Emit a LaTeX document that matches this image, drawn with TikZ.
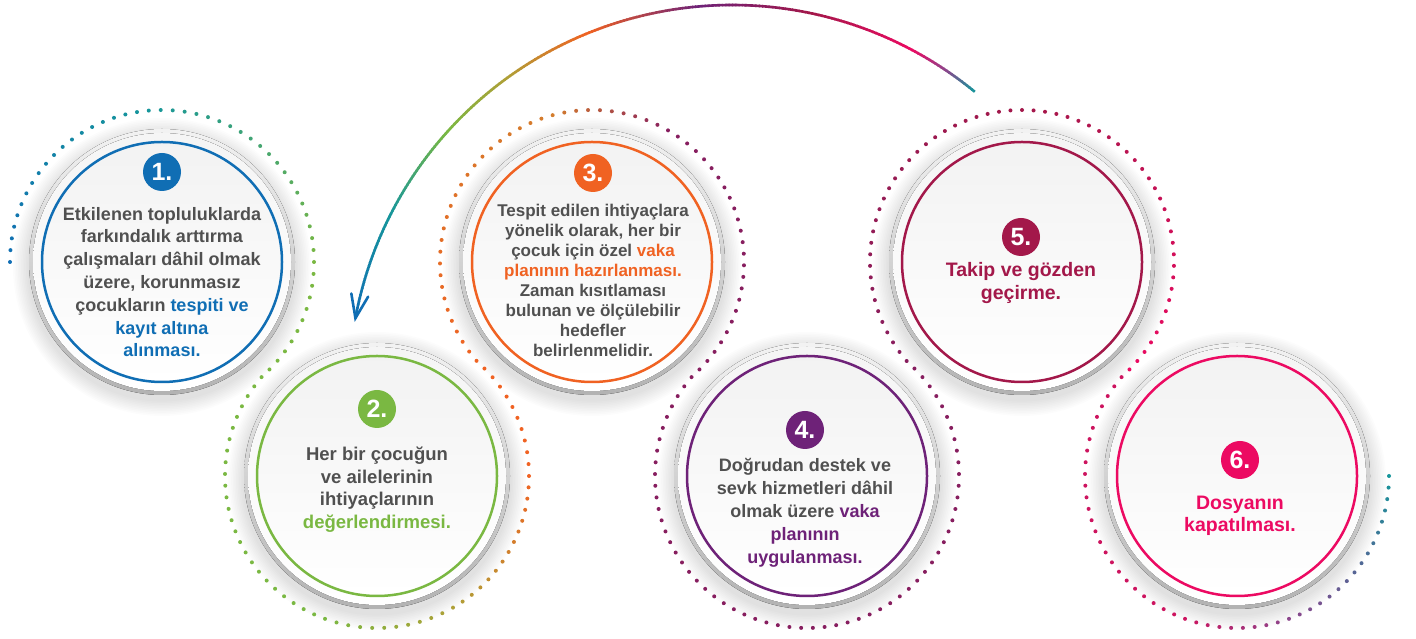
\documentclass[tikz,border=0pt]{standalone}
\usepackage{fontspec}
\setmainfont{Liberation Sans}
\usetikzlibrary{calc}
\definecolor{cblue}{RGB}{16,110,180}
\definecolor{cgreen}{RGB}{122,184,66}
\definecolor{corange}{RGB}{240,98,34}
\definecolor{cpurple}{RGB}{110,34,120}
\definecolor{ccrimson}{RGB}{163,24,74}
\definecolor{cpink}{RGB}{236,10,98}
\definecolor{ctext}{RGB}{80,80,80}
\definecolor{cteal}{RGB}{22,150,155}
\definecolor{colive}{RGB}{175,160,55}
\definecolor{cdotor}{RGB}{212,125,45}
\definecolor{cdotpur}{RGB}{135,30,95}
\definecolor{cdotpink}{RGB}{205,20,95}
\definecolor{cmauve}{RGB}{140,70,140}
\definecolor{cslate}{RGB}{80,105,150}
\tikzset{
  badge/.style={circle, inner sep=0pt, minimum size=38pt, text=white,
    font=\fontsize{25}{25}\selectfont\bfseries},
  body/.style={align=center, inner sep=0pt, text=ctext, anchor=base},
  flowarc/.style={line width=2.6pt, line cap=butt},
}
\newcommand\mkdisc[2]{%
  \foreach \i in {1,...,10}{\fill[black,opacity=0.013] ([yshift=-5pt]#1) circle[radius={133+1.6*\i}];}
  \fill[top color=black!5, bottom color=black!30] (#1) circle[radius=133];
  \fill[top color=black!4, bottom color=white] (#1) circle[radius=129];
  \fill[top color=black!5, bottom color=white] (#1) circle[radius=120];
  \draw[#2, line width=2.5pt] (#1) circle[radius=120];
}
\begin{document}
\begin{tikzpicture}[x=1pt,y=1pt]
\useasboundingbox (0,0) rectangle (1416,639);
\fill[white] (0,0) rectangle (1416,639);
\coordinate (c1) at (162,377);
\coordinate (c2) at (377,163);
\coordinate (c3) at (592,377);
\coordinate (c4) at (807,163);
\coordinate (c5) at (1022,377);
\coordinate (c6) at (1237,163);
\coordinate (arcc) at (732,251);

% discs
\mkdisc{c1}{cblue}
\mkdisc{c2}{cgreen}
\mkdisc{c3}{corange}
\mkdisc{c4}{cpurple}
\mkdisc{c5}{ccrimson}
\mkdisc{c6}{cpink}

% dotted wave
\fill[cblue] (c1) ++(180:152) circle[radius=2];
\foreach \cc/\aa/\bb/\ca/\cb/\n in {
  c1/180/95/cblue/cteal/19,
  c1/95/0/cteal/cgreen/21,
  c1/0/-45/cgreen/cgreen/10,
  c2/135/250/cgreen/cgreen/26,
  c2/250/300/cgreen/colive/11,
  c2/300/360/colive/corange/14,
  c2/360/405/corange/corange/10,
  c3/225/105/corange/cdotor/27,
  c3/105/60/cdotor/cdotpur/10,
  c3/60/-45/cdotpur/cdotpur/24,
  c4/135/405/cdotpur/cdotpur/61,
  c5/225/90/cdotpur/ccrimson/31,
  c5/90/-45/ccrimson/cpink/31,
  c6/135/250/cdotpink/cdotpink/26,
  c6/250/290/cdotpink/cmauve/9,
  c6/290/325/cmauve/cslate/8,
  c6/325/360/cslate/cteal/8}{
  \foreach \k in {1,...,\n}{
    \pgfmathsetmacro\ang{\aa+(\bb-\aa)/\n*\k}
    \pgfmathsetmacro\p{100/\n*\k}
    \colorlet{dc}{\cb!\p!\ca}
    \fill[dc] (\cc) ++(\ang:152) circle[radius=2];
  }
}

% gradient return arrow
\foreach \aa/\bb/\ca/\cb/\n in {
  169.5/153/cblue/cteal/33,
  153/138/cteal/cgreen/30,
  138/126/cgreen/colive/24,
  126/112/colive/corange/28,
  112/95/corange/cpurple/34,
  95/78/cpurple/ccrimson/34,
  78/62/ccrimson/cpink/32,
  62/56/cpink/cmauve/12,
  56/50.8/cmauve/cteal/11}{
  \foreach \k in {1,...,\n}{
    \pgfmathsetmacro\sa{\aa+(\bb-\aa)/\n*(\k-1)}
    \pgfmathsetmacro\ea{\aa+(\bb-\aa)/\n*(\k+0.3)}
    \pgfmathsetmacro\p{100/\n*(\k-0.5)}
    \colorlet{ac}{\cb!\p!\ca}
    \draw[flowarc, ac] (arcc) ++(\sa:383) arc[start angle=\sa, end angle=\ea, radius=383];
  }
}
\coordinate (tip) at ($(arcc)+(169.5:383)$);
\coordinate (barbL) at ($(tip)+(-4.1,24.7)$);
\coordinate (barbR) at ($(tip)+(12.7,21.5)$);
\draw[cblue, line width=2.6pt, line cap=round, line join=miter] (barbL) -- (tip) -- (barbR);

% badges
\node[badge, fill=cblue] (b1) at (162,467) {1.};
\node[badge, fill=cgreen] (b2) at (377,230) {2.};
\node[badge, fill=corange] (b3) at (593,466) {3.};
\node[badge, fill=cpurple] (b4) at (805,209) {4.};
\node[badge, fill=ccrimson] (b5) at (1021,402) {5.};
\node[badge, fill=cpink] (b6) at (1240,179) {6.};

% texts (base anchor = last line baseline)
\node[body, font=\fontsize{18}{22.8}\selectfont\bfseries] (t1) at (162,282)
  {Etkilenen topluluklarda\\farkındalık arttırma\\çalışmaları dâhil olmak\\üzere, korunmasız\\çocukların \textcolor{cblue}{tespiti ve}\\\textcolor{cblue}{kayıt altına}\\\textcolor{cblue}{alınması.}};
\node[body, font=\fontsize{18.5}{22.5}\selectfont\bfseries] (t2) at (377,110.5)
  {Her bir çocuğun\\ve ailelerinin\\ihtiyaçlarının\\\textcolor{cgreen}{değerlendirmesi.}};
\node[body, font=\fontsize{17}{20}\selectfont\bfseries] (t3) at (593,282)
  {Tespit edilen ihtiyaçlara\\yönelik olarak, her bir\\çocuk için özel \textcolor{corange}{vaka}\\\textcolor{corange}{planının hazırlanması.}\\Zaman kısıtlaması\\bulunan ve ölçülebilir\\hedefler\\belirlenmelidir.};
\node[body, font=\fontsize{18}{23}\selectfont\bfseries] (t4) at (805,75)
  {Doğrudan destek ve\\sevk hizmetleri dâhil\\olmak üzere \textcolor{cpurple}{vaka}\\\textcolor{cpurple}{planının}\\\textcolor{cpurple}{uygulanması.}};
\node[body, text=ccrimson, font=\fontsize{19.5}{23}\selectfont\bfseries] (t5) at (1021,339)
  {Takip ve gözden\\geçirme.};
\node[body, text=cpink, font=\fontsize{19.5}{22}\selectfont\bfseries] (t6) at (1240,107)
  {Dosyanın\\kapatılması.};
\end{tikzpicture}
\end{document}
